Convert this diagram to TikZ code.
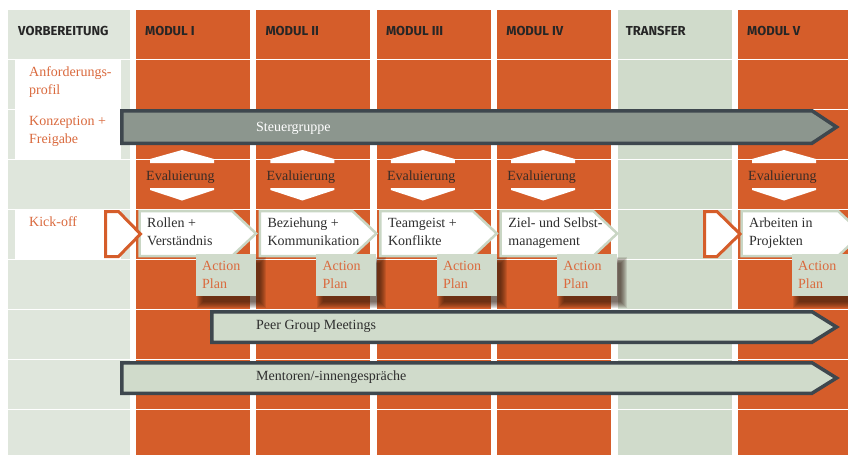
\documentclass[tikz,border=0pt]{standalone}
\usepackage{fontspec}
\setmainfont{Liberation Serif}
\newfontfamily\hdrfont{Fira Sans}
\definecolor{orng}{HTML}{D55D2A}
\definecolor{txtor}{HTML}{DA6A3E}
\definecolor{pale}{HTML}{DFE6DC}
\definecolor{sage}{HTML}{D0DBCB}
\definecolor{steel}{HTML}{3E474E}
\definecolor{steuer}{HTML}{8C968E}
\definecolor{stepbd}{HTML}{C9D6C4}
\definecolor{evtxt}{HTML}{3A2C26}
\definecolor{darktxt}{HTML}{2E2E2E}
\definecolor{hdrtxt}{HTML}{262626}
\definecolor{shadowc}{HTML}{2A1408}
\begin{document}
\begin{tikzpicture}[x=1pt,y=-1pt,
  hdr/.style={font=\hdrfont\bfseries\fontsize{13}{15}\selectfont, text=hdrtxt, anchor=base west, inner sep=0pt},
  ortext/.style={font=\fontsize{14}{18}\selectfont, text=txtor, anchor=base west, inner sep=0pt, align=left},
  evtext/.style={font=\fontsize{14}{18}\selectfont, text=evtxt, anchor=base west, inner sep=0pt},
  steptext/.style={font=\fontsize{14}{18}\selectfont, text=darktxt, anchor=base west, inner sep=0pt, align=left},
  bartext/.style={font=\fontsize{14}{18}\selectfont, text=darktxt, anchor=base west, inner sep=0pt},
  evshape/.style={fill=white, draw=none},
  stepbox/.style={fill=white, draw=stepbd, line width=2.5pt, line join=miter},
  kickarrow/.style={fill=white, draw=orng, line width=3pt},
  barshape/.style={draw=steel, line width=3.5pt},
  actbox/.style={fill=sage},
  rowline/.style={draw=white, line width=0.9pt}
]
\useasboundingbox (0,0) rectangle (848,455);
\clip (0,0) rectangle (848,455);
\fill[white] (0,0) rectangle (848,455);

% columns
\fill[pale] (8,10) rectangle (130,455);
\fill[orng] (136,10) rectangle (250,455);
\fill[orng] (256.4,10) rectangle (370.4,455);
\fill[orng] (376.8,10) rectangle (490.8,455);
\fill[orng] (497.2,10) rectangle (611.2,455);
\fill[sage] (617.6,10) rectangle (731.6,455);
\fill[orng] (738,10) rectangle (852,455);

% row lines
\foreach \yy in {59,109,159,209,259,309,359,409}{
  \draw[rowline] (8,\yy) -- (852,\yy);
}

% white fields in Vorbereitung
\fill[white] (15,59.5) rectangle (121,159);
\fill[white] (15,209.5) rectangle (121,259);

% headers
\node[hdr] (hV) at (18,35) {VORBEREITUNG};
\node[hdr] (h1) at (145,35) {MODUL I};
\node[hdr] (h2) at (265.4,35) {MODUL II};
\node[hdr] (h3) at (385.8,35) {MODUL III};
\node[hdr] (h4) at (506.2,35) {MODUL IV};
\node[hdr] (hT) at (625.6,35) {TRANSFER};
\node[hdr] (h5) at (747,35) {MODUL V};

% Vorbereitung texts (base anchor = last line)
\node[ortext] (anf) at (29,94) {Anforderungs-\\profil};
\node[ortext] (konz) at (29,143) {Konzeption +\\Freigabe};
\node[ortext] (kick) at (29,226) {Kick-off};

% Steuergruppe bar
\draw[barshape, fill=steuer] (121.75,110.75) -- (812,110.75) -- (836.5,127) -- (812,143.25) -- (121.75,143.25) -- cycle;
\node[bartext, text=white] (steuer) at (256,131) {Steuergruppe};

% Evaluierung
\foreach \c [count=\n] in {136,256.4,376.8,497.2,738}{
  \fill[evshape] (\c+14,159) -- (\c+46,150) -- (\c+78,159) -- (\c+78,163) -- (\c+14,163) -- cycle;
  \fill[evshape] (\c+14,188) -- (\c+78,188) -- (\c+78,190) -- (\c+46,200.5) -- (\c+14,190) -- cycle;
  \node[evtext] (ev\n) at (\c+10,180) {Evaluierung};
}

% step boxes
\foreach \c in {136,256.4,376.8,497.2}{
  \draw[stepbox] (\c+3.5,211) -- (\c+96,211) -- (\c+120,233.5) -- (\c+96,256) -- (\c+3.5,256) -- cycle;
}
\draw[stepbox] (741.5,211) -- (838,211) -- (862,233.5) -- (838,256) -- (741.5,256) -- cycle;

\node[steptext] (s1) at (147,245) {Rollen +\\Verständnis};
\node[steptext] (s2) at (267.4,245) {Beziehung +\\Kommunikation};
\node[steptext] (s3) at (387.8,245) {Teamgeist +\\Konflikte};
\node[steptext] (s4) at (508.2,245) {Ziel- und Selbst-\\management};
\node[steptext] (s5) at (749,245) {Arbeiten in\\Projekten};

% kick-off chevrons
\draw[kickarrow] (105.5,211.5) -- (118.5,211.5) -- (140.5,234) -- (118.5,256.5) -- (105.5,256.5) -- cycle;
\draw[kickarrow] (704.5,211.5) -- (717,211.5) -- (740,234) -- (717,256.5) -- (704.5,256.5) -- cycle;

% action plan boxes with soft shadows
\foreach \ax [count=\n] in {196,316.4,436.8,557.2,792}{
  \foreach \k in {0,1,2,3,4,5,6}{
    \fill[shadowc, opacity=0.12] (\ax+7-\k,263-\k) rectangle (\ax+64+\k,302+\k);
  }
  \fill[actbox] (\ax,254) rectangle (\ax+60,296);
  \node[ortext] (ap\n) at (\ax+6,288) {Action\\Plan};
}

% Peer Group Meetings bar
\draw[barshape, fill=sage] (211.75,311.75) -- (812,311.75) -- (836.5,327) -- (812,342.25) -- (211.75,342.25) -- cycle;
\node[bartext] (peer) at (256,329) {Peer Group Meetings};

% Mentoren bar
\draw[barshape, fill=sage] (121.75,362.75) -- (812,362.75) -- (836.5,378) -- (812,393.25) -- (121.75,393.25) -- cycle;
\node[bartext] (ment) at (256,380) {Mentoren/-innengespräche};
\end{tikzpicture}
\end{document}
